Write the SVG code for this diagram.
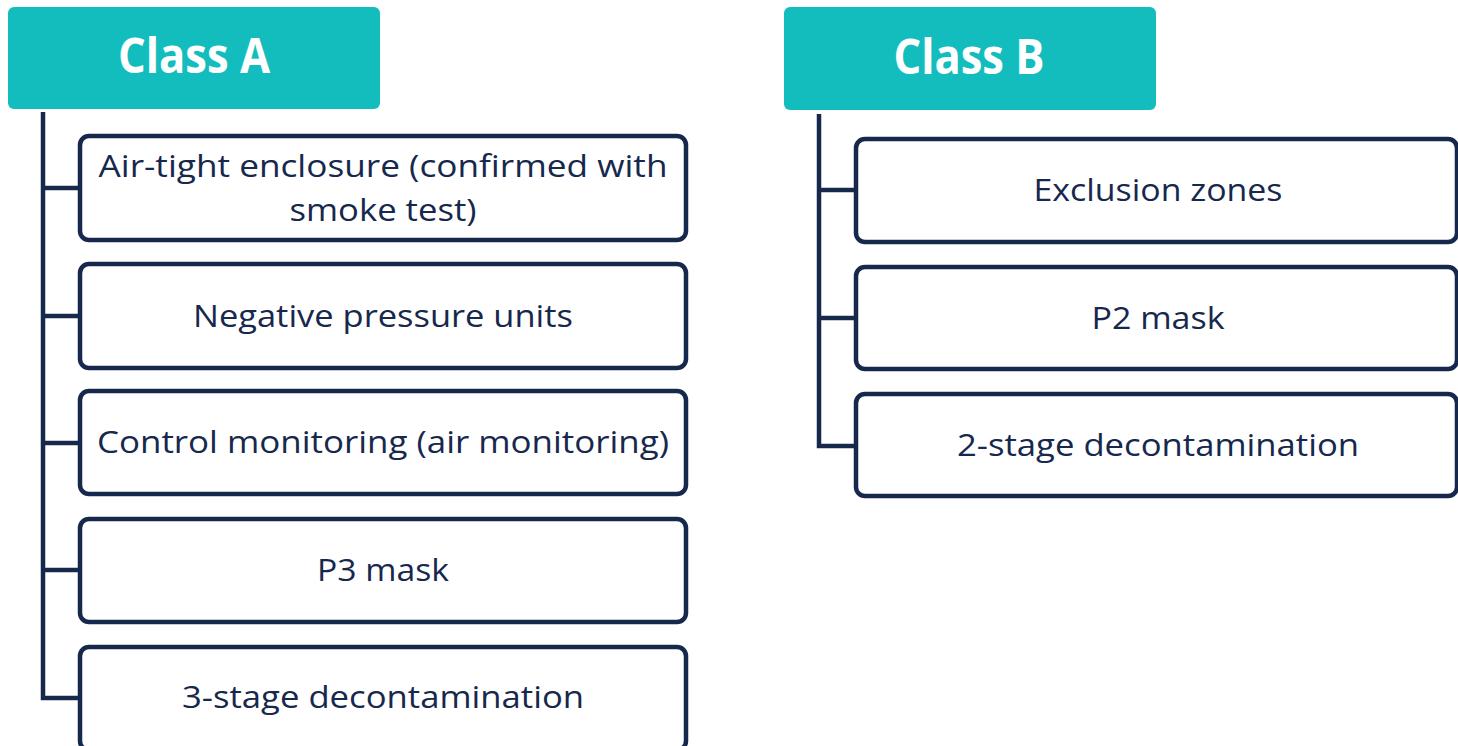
<svg xmlns="http://www.w3.org/2000/svg" width="1458" height="746" viewBox="0 0 1458 746">
<style>
.hdr{fill:#14BDBD}
.hdrt{font-family:"Open Sans",sans-serif;font-weight:bold;font-size:49px;fill:#ffffff;text-anchor:middle}
.box{fill:#ffffff;stroke:#17284D;stroke-width:4.5}
.t{font-family:"Open Sans",sans-serif;font-size:31.5px;fill:#17284D;text-anchor:middle}
.con{fill:none;stroke:#17284D;stroke-width:4.5}
</style>
<rect width="1458" height="746" fill="#ffffff"/>
<g id="connectors">
<path class="con" d="M43 112 V698 H80 M43 188 H80 M43 316 H80 M43 443 H80 M43 570 H80"/>
<path class="con" d="M819 114 V446 H856 M819 190 H856 M819 318 H856"/>
</g>
<g id="classA">
<rect class="hdr" x="8" y="7" width="372" height="102" rx="6"/>
<text class="hdrt" x="194" y="73" textLength="152" lengthAdjust="spacingAndGlyphs">Class A</text>
</g>
<g id="a1">
<rect class="box" x="80" y="136" width="606" height="104" rx="9"/>
<text class="t" x="383" y="177" textLength="569" lengthAdjust="spacingAndGlyphs">Air-tight enclosure (confirmed with</text>
<text class="t" x="383" y="221" textLength="187" lengthAdjust="spacingAndGlyphs">smoke test)</text>
</g>
<g id="a2">
<rect class="box" x="80" y="264" width="606" height="104" rx="9"/>
<text class="t" x="383" y="327" textLength="380" lengthAdjust="spacingAndGlyphs">Negative pressure units</text>
</g>
<g id="a3">
<rect class="box" x="80" y="391" width="606" height="103" rx="9"/>
<text class="t" x="383" y="453" textLength="572" lengthAdjust="spacingAndGlyphs">Control monitoring (air monitoring)</text>
</g>
<g id="a4">
<rect class="box" x="80" y="519" width="606" height="103" rx="9"/>
<text class="t" x="383" y="581" textLength="132" lengthAdjust="spacingAndGlyphs">P3 mask</text>
</g>
<g id="a5">
<rect class="box" x="80" y="647" width="606" height="103" rx="9"/>
<text class="t" x="383" y="708" textLength="402" lengthAdjust="spacingAndGlyphs">3-stage decontamination</text>
</g>
<g id="classB">
<rect class="hdr" x="784" y="7" width="372" height="103" rx="6"/>
<text class="hdrt" x="969" y="74" textLength="151" lengthAdjust="spacingAndGlyphs">Class B</text>
</g>
<g id="b1">
<rect class="box" x="856" y="139" width="601" height="103" rx="9"/>
<text class="t" x="1158" y="201" textLength="249" lengthAdjust="spacingAndGlyphs">Exclusion zones</text>
</g>
<g id="b2">
<rect class="box" x="856" y="267" width="601" height="102" rx="9"/>
<text class="t" x="1158" y="329" textLength="133" lengthAdjust="spacingAndGlyphs">P2 mask</text>
</g>
<g id="b3">
<rect class="box" x="856" y="394" width="601" height="102" rx="9"/>
<text class="t" x="1158" y="456" textLength="402" lengthAdjust="spacingAndGlyphs">2-stage decontamination</text>
</g>
</svg>
